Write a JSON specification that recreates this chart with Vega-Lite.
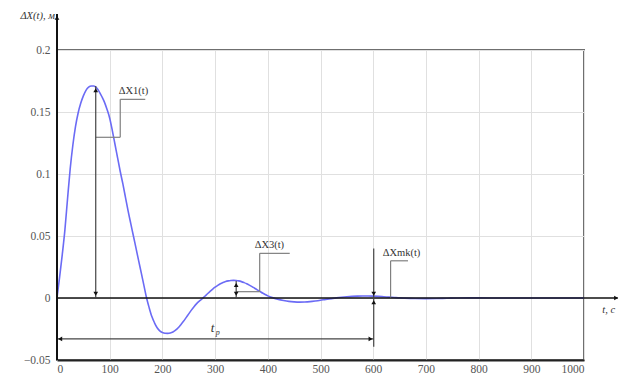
{
  "$schema": "https://vega.github.io/schema/vega-lite/v6.json",
  "width": 527,
  "height": 310,
  "autosize": {"type": "none"},
  "padding": {"left": 57, "top": 50, "right": 37, "bottom": 16},
  "background": "white",
  "config": {
    "view": {"stroke": "#6f6f6f", "strokeWidth": 2},
    "font": "Liberation Serif",
    "axis": {
      "labelFont": "Liberation Serif",
      "labelFontSize": 11.5,
      "labelColor": "#555",
      "ticks": false,
      "gridColor": "#e0e0e0",
      "gridWidth": 1,
      "title": null
    }
  },
  "datasets": {
    "curve": [
      {"t": 0, "dx": 0}, {"t": 5, "dx": 0.017}, {"t": 10, "dx": 0.035}, {"t": 15, "dx": 0.055},
      {"t": 20, "dx": 0.08}, {"t": 25, "dx": 0.104}, {"t": 30, "dx": 0.123}, {"t": 35, "dx": 0.138},
      {"t": 40, "dx": 0.149}, {"t": 45, "dx": 0.157}, {"t": 50, "dx": 0.163}, {"t": 55, "dx": 0.1675},
      {"t": 60, "dx": 0.170}, {"t": 65, "dx": 0.171}, {"t": 70, "dx": 0.171}, {"t": 75, "dx": 0.1695},
      {"t": 80, "dx": 0.1665}, {"t": 85, "dx": 0.1625}, {"t": 90, "dx": 0.158}, {"t": 95, "dx": 0.152},
      {"t": 100, "dx": 0.145}, {"t": 105, "dx": 0.135}, {"t": 110, "dx": 0.124}, {"t": 115, "dx": 0.113},
      {"t": 120, "dx": 0.102}, {"t": 125, "dx": 0.092}, {"t": 130, "dx": 0.081}, {"t": 135, "dx": 0.070},
      {"t": 140, "dx": 0.060}, {"t": 145, "dx": 0.050}, {"t": 150, "dx": 0.040}, {"t": 155, "dx": 0.030},
      {"t": 160, "dx": 0.020}, {"t": 165, "dx": 0.010}, {"t": 170, "dx": 0.0}, {"t": 175, "dx": -0.008},
      {"t": 180, "dx": -0.015}, {"t": 185, "dx": -0.020}, {"t": 190, "dx": -0.024}, {"t": 195, "dx": -0.0265},
      {"t": 200, "dx": -0.0278}, {"t": 205, "dx": -0.0284}, {"t": 210, "dx": -0.0285}, {"t": 215, "dx": -0.0282},
      {"t": 220, "dx": -0.0274}, {"t": 225, "dx": -0.026}, {"t": 230, "dx": -0.024}, {"t": 235, "dx": -0.0215},
      {"t": 240, "dx": -0.0188}, {"t": 245, "dx": -0.0158}, {"t": 250, "dx": -0.0128}, {"t": 255, "dx": -0.0098},
      {"t": 260, "dx": -0.0070}, {"t": 265, "dx": -0.0045}, {"t": 270, "dx": -0.0025}, {"t": 275, "dx": -0.0008},
      {"t": 280, "dx": 0.0012}, {"t": 285, "dx": 0.0032}, {"t": 290, "dx": 0.0052}, {"t": 295, "dx": 0.0070},
      {"t": 300, "dx": 0.0087}, {"t": 305, "dx": 0.0102}, {"t": 310, "dx": 0.0115}, {"t": 315, "dx": 0.0125},
      {"t": 320, "dx": 0.0133}, {"t": 325, "dx": 0.0138}, {"t": 330, "dx": 0.0141}, {"t": 335, "dx": 0.0142},
      {"t": 340, "dx": 0.0141}, {"t": 345, "dx": 0.0138}, {"t": 350, "dx": 0.0132}, {"t": 355, "dx": 0.0124},
      {"t": 360, "dx": 0.0115}, {"t": 365, "dx": 0.0104}, {"t": 370, "dx": 0.0092}, {"t": 375, "dx": 0.0079},
      {"t": 380, "dx": 0.0066}, {"t": 385, "dx": 0.0053}, {"t": 390, "dx": 0.0040}, {"t": 395, "dx": 0.0028},
      {"t": 400, "dx": 0.0017}, {"t": 405, "dx": 0.0008}, {"t": 410, "dx": 0.0001}, {"t": 415, "dx": -0.0005},
      {"t": 420, "dx": -0.0011}, {"t": 430, "dx": -0.0020}, {"t": 440, "dx": -0.0027}, {"t": 450, "dx": -0.0031},
      {"t": 460, "dx": -0.0033}, {"t": 470, "dx": -0.0032}, {"t": 480, "dx": -0.0029}, {"t": 490, "dx": -0.0024},
      {"t": 500, "dx": -0.0018}, {"t": 510, "dx": -0.0011}, {"t": 520, "dx": -0.0005}, {"t": 530, "dx": 0.0001},
      {"t": 540, "dx": 0.0006}, {"t": 550, "dx": 0.0010}, {"t": 560, "dx": 0.0013}, {"t": 570, "dx": 0.0015},
      {"t": 580, "dx": 0.0016}, {"t": 590, "dx": 0.0016}, {"t": 600, "dx": 0.0015}, {"t": 610, "dx": 0.0013},
      {"t": 620, "dx": 0.0010}, {"t": 630, "dx": 0.0007}, {"t": 640, "dx": 0.0004}, {"t": 650, "dx": 0.0001},
      {"t": 660, "dx": -0.0001}, {"t": 680, "dx": -0.0004}, {"t": 700, "dx": -0.0005}, {"t": 720, "dx": -0.0004},
      {"t": 740, "dx": -0.0002}, {"t": 760, "dx": 0.0}, {"t": 800, "dx": 0.0001}, {"t": 850, "dx": 0.0},
      {"t": 900, "dx": 0.0}, {"t": 950, "dx": 0.0}, {"t": 1000, "dx": 0.0}
    ],
    "axisLines": [
      {"x": 0, "y": -0.05, "x2": 0, "y2": 0.229, "w": 2},
      {"x": 0, "y": 0, "x2": 1064, "y2": 0, "w": 1.5}
    ],
    "arrows": [
      {"x": 73.5, "y": 0.171, "x2": 73.5, "y2": 0},
      {"x": 340, "y": 0.0138, "x2": 340, "y2": 0},
      {"x": 601, "y": 0.040, "x2": 601, "y2": 0.0005},
      {"x": 601, "y": -0.0393, "x2": 601, "y2": -0.0005},
      {"x": 2, "y": -0.033, "x2": 601, "y2": -0.033}
    ],
    "leaders": [
      {"x": 73.5, "y": 0.1296, "x2": 120, "y2": 0.1296},
      {"x": 120, "y": 0.1296, "x2": 120, "y2": 0.1602},
      {"x": 120, "y": 0.1602, "x2": 167.5, "y2": 0.1602},
      {"x": 340, "y": 0.0051, "x2": 384.6, "y2": 0.0051},
      {"x": 384.6, "y": 0.0051, "x2": 384.6, "y2": 0.036},
      {"x": 384.6, "y": 0.036, "x2": 441.6, "y2": 0.036},
      {"x": 633, "y": 0.0005, "x2": 633, "y2": 0.030},
      {"x": 633, "y": 0.030, "x2": 666, "y2": 0.030}
    ],
    "heads": [
      {"x": 0, "y": 0.226, "shape": "triangle-up"},
      {"x": 1061, "y": 0, "shape": "triangle-right"},
      {"x": 73.5, "y": 0.1675, "shape": "triangle-up"},
      {"x": 73.5, "y": 0.0035, "shape": "triangle-down"},
      {"x": 340, "y": 0.0105, "shape": "triangle-up"},
      {"x": 340, "y": 0.0035, "shape": "triangle-down"},
      {"x": 601, "y": 0.0035, "shape": "triangle-down"},
      {"x": 601, "y": -0.0035, "shape": "triangle-up"},
      {"x": 6, "y": -0.033, "shape": "triangle-left"},
      {"x": 595, "y": -0.033, "shape": "triangle-right"}
    ],
    "notes": [
      {"x": 117, "y": 0.1672, "label": "ΔX1(t)"},
      {"x": 375, "y": 0.0427, "label": "ΔX3(t)"},
      {"x": 618, "y": 0.0365, "label": "ΔXmk(t)"}
    ]
  },
  "layer": [
    {
      "data": {"name": "curve"},
      "mark": {"type": "line", "color": "#6b6bf5", "strokeWidth": 1.6, "interpolate": "monotone"},
      "encoding": {
        "x": {
          "field": "t", "type": "quantitative",
          "scale": {"domain": [0, 1000], "nice": false, "zero": false},
          "axis": {"values": [0, 100, 200, 300, 400, 500, 600, 700, 800, 900, 1000], "format": "d", "domainColor": "#222", "domainWidth": 2, "labelPadding": 3, "grid": true}
        },
        "y": {
          "field": "dx", "type": "quantitative",
          "scale": {"domain": [-0.05, 0.2], "nice": false, "zero": false},
          "axis": {"values": [-0.05, 0, 0.05, 0.1, 0.15, 0.2], "format": "~g", "domain": false, "labelPadding": 7, "grid": true}
        }
      }
    },
    {
      "data": {"name": "axisLines"},
      "mark": {"type": "rule", "color": "#111", "clip": false},
      "encoding": {
        "x": {"field": "x", "type": "quantitative"},
        "x2": {"field": "x2"},
        "y": {"field": "y", "type": "quantitative"},
        "y2": {"field": "y2"},
        "strokeWidth": {"field": "w", "type": "quantitative", "scale": null}
      }
    },
    {
      "data": {"name": "leaders"},
      "mark": {"type": "rule", "color": "#808080", "strokeWidth": 1.2},
      "encoding": {
        "x": {"field": "x", "type": "quantitative"},
        "x2": {"field": "x2"},
        "y": {"field": "y", "type": "quantitative"},
        "y2": {"field": "y2"}
      }
    },
    {
      "data": {"name": "arrows"},
      "mark": {"type": "rule", "color": "#444", "strokeWidth": 1.2},
      "encoding": {
        "x": {"field": "x", "type": "quantitative"},
        "x2": {"field": "x2"},
        "y": {"field": "y", "type": "quantitative"},
        "y2": {"field": "y2"}
      }
    },
    {
      "data": {"name": "heads"},
      "mark": {"type": "point", "filled": true, "color": "#111", "size": 22, "opacity": 1, "clip": false},
      "encoding": {
        "x": {"field": "x", "type": "quantitative"},
        "y": {"field": "y", "type": "quantitative"},
        "shape": {"field": "shape", "type": "nominal", "scale": null}
      }
    },
    {
      "data": {"name": "notes"},
      "mark": {"type": "text", "align": "left", "baseline": "middle", "font": "Liberation Serif", "fontSize": 10.5, "color": "#333"},
      "encoding": {
        "x": {"field": "x", "type": "quantitative"},
        "y": {"field": "y", "type": "quantitative"},
        "text": {"field": "label"}
      }
    },
    {
      "data": {"values": [{"x": 295, "y": -0.0242, "label": "t"}]},
      "mark": {"type": "text", "align": "center", "baseline": "middle", "font": "Liberation Serif", "fontStyle": "italic", "fontSize": 13, "color": "#333"},
      "encoding": {
        "x": {"field": "x", "type": "quantitative"},
        "y": {"field": "y", "type": "quantitative"},
        "text": {"field": "label"}
      }
    },
    {
      "data": {"values": [{"x": 305, "y": -0.0285, "label": "p"}]},
      "mark": {"type": "text", "align": "center", "baseline": "middle", "font": "Liberation Serif", "fontStyle": "italic", "fontSize": 8, "color": "#333"},
      "encoding": {
        "x": {"field": "x", "type": "quantitative"},
        "y": {"field": "y", "type": "quantitative"},
        "text": {"field": "label"}
      }
    },
    {
      "data": {"values": [{"x": -4, "y": 0.2275, "label": "ΔX(t), м"}]},
      "mark": {"type": "text", "align": "right", "baseline": "middle", "font": "Liberation Serif", "fontStyle": "italic", "fontSize": 10.5, "color": "#333", "clip": false},
      "encoding": {
        "x": {"field": "x", "type": "quantitative"},
        "y": {"field": "y", "type": "quantitative"},
        "text": {"field": "label"}
      }
    },
    {
      "data": {"values": [{"x": 1047, "y": -0.0097, "label": "t, с"}]},
      "mark": {"type": "text", "align": "center", "baseline": "middle", "font": "Liberation Serif", "fontStyle": "italic", "fontSize": 10.5, "color": "#333", "clip": false},
      "encoding": {
        "x": {"field": "x", "type": "quantitative"},
        "y": {"field": "y", "type": "quantitative"},
        "text": {"field": "label"}
      }
    }
  ]
}
